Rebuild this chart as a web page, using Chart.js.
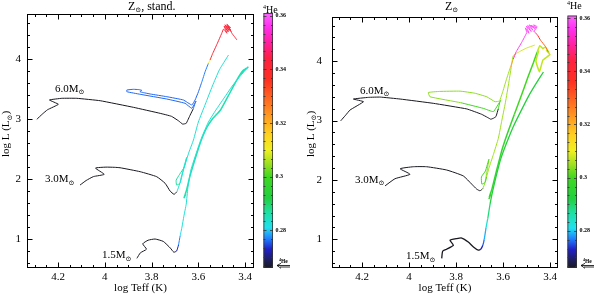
<!DOCTYPE html>
<html><head><meta charset="utf-8">
<script src="https://cdn.jsdelivr.net/npm/chart.js@4.4.1/dist/chart.umd.min.js"></script>
<style>
html,body{margin:0;padding:0;background:#fff;}
#wrap{position:relative;width:600px;height:295px;overflow:hidden;}
.pn{position:absolute;top:0;width:300px;height:295px;}
</style></head><body>
<div id="wrap">
<div class="pn" style="left:0"><canvas id="cL" width="300" height="295"></canvas></div>
<div class="pn" style="left:300px"><canvas id="cR" width="300" height="295"></canvas></div>
</div>
<script>
// ---------- axes / ticks ----------
const xMajorTicks = [4.2, 4.0, 3.8, 3.6, 3.4];
const xTickLabels = ['4.2', '4', '3.8', '3.6', '3.4'];
const yMajorTicks = [1, 2, 3, 4];
const yTickLabels = ['1', '2', '3', '4'];
const yMin = 0.517, yMax = 4.75;
const heMin = 0.266, heMax = 0.3606;
const heTickValues = [0.28, 0.30, 0.32, 0.34, 0.36];
const heTickLabels = ['0.28', '0.3', '0.32', '0.34', '0.36'];
const massLabels = ['6.0', '3.0', '1.5'];

// colour table of the 4He colour bar
const heStops = [0.266,0.269,0.273,0.277,0.281,0.287,0.292,0.300,0.305,0.310,0.316,0.322,0.328,0.336,0.344,0.350,0.356,0.361];
const heStopColors = ['#181820','#1e1e60','#2020c8','#2080ff','#20e0f0','#20e0a0','#20d040','#40d820','#a0e020','#f0f020','#ffd020','#ffa020','#ff7020','#ff3020','#ff2040','#ff20a0','#ff30f0','#ff60ff'];

// ---------- LEFT panel (Z_sun, stand.) ----------
const L6_x = [4.291,4.268,4.245,4.199,4.237,4.184,4.120,4.020,3.878,3.764,3.715,3.685,3.667,3.652,3.635,3.622,3.614,3.610,3.628,3.657,3.735,3.849,3.906,3.906,3.878,3.855,3.842,3.850,3.835,3.806,3.735,3.664,3.628,3.614,3.600,3.585,3.570,3.557,3.550,3.540,3.520,3.500,
  3.492,3.478,3.490,3.472,3.486,3.468,3.482,3.464,3.478,3.462,3.475,3.460,3.470,3.455,3.445,3.435];
const L6_y = [2.995,3.080,3.155,3.245,3.317,3.345,3.345,3.305,3.195,3.095,3.045,2.970,2.915,2.928,3.067,3.170,3.262,3.300,3.178,3.262,3.333,3.412,3.455,3.483,3.495,3.490,3.478,3.455,3.440,3.417,3.372,3.317,3.233,3.317,3.450,3.620,3.800,3.928,3.983,4.080,4.250,4.428,
  4.500,4.430,4.550,4.450,4.570,4.470,4.560,4.490,4.580,4.520,4.550,4.460,4.530,4.420,4.370,4.317];
const L6_he = [0.266,0.266,0.266,0.266,0.266,0.266,0.266,0.266,0.266,0.266,0.266,0.266,0.266,0.266,0.266,0.266,
  0.276,0.276,0.276,0.276,0.276,0.276,0.276,0.276,0.276,0.276,0.276,0.276,0.276,0.276,0.276,0.276,0.276,0.276,0.276,0.276,0.277,0.277,
  0.310,0.336,0.342,0.342,
  0.342,0.342,0.342,0.342,0.342,0.342,0.342,0.342,0.342,0.342,0.342,0.342,0.342,0.342,0.342,0.342];

const L3_x = [4.106,4.080,4.049,4.003,4.040,3.995,3.960,3.935,3.849,3.778,3.742,3.721,3.704,3.692,3.680,3.672,3.662,3.650,3.660,3.680,3.695,3.693,3.678,3.672,3.660,3.640,3.621,3.600,3.570,3.540,3.510,3.471];
const L3_y = [1.900,1.975,2.040,2.078,2.182,2.198,2.195,2.188,2.122,2.038,1.928,1.800,1.745,1.788,1.920,2.050,2.200,2.360,2.200,2.080,1.980,1.900,1.930,2.020,2.200,2.450,2.650,2.950,3.250,3.550,3.820,4.067];
const L3_he = [0.266,0.266,0.266,0.266,0.266,0.266,0.266,0.266,0.266,0.266,0.266,0.266,0.266,0.266,
  0.283,0.283,0.283,0.283,0.287,0.287,0.287,0.287,0.287,0.283,0.283,0.283,0.283,0.283,0.283,0.283,0.283,0.283];

const L15_x = [3.863,3.848,3.822,3.838,3.815,3.785,3.750,3.720,3.705,3.693,3.685,3.678,3.670,3.662,3.652,3.645,3.632,3.610,3.585,3.557,3.525,3.490,3.455,3.420,3.392];
const L15_y = [0.678,0.770,0.830,0.920,0.980,1.000,0.960,0.850,0.780,0.800,0.900,1.050,1.200,1.380,1.580,1.850,2.150,2.420,2.700,2.950,3.150,3.350,3.550,3.720,3.850];
const L15_he = [0.266,0.266,0.266,0.266,0.266,0.266,0.266,0.266,0.266,0.266,0.272,0.277,0.281,
  0.283,0.283,0.283,0.283,0.283,0.283,0.283,0.283,0.283,0.283,0.283,0.283];

const L15agb_x = [3.662,3.655,3.660,3.650,3.636,3.615,3.592,3.565,3.540,3.505,3.470,3.440,3.415,3.405,3.415,3.398,3.410,3.386];
const L15agb_y = [1.680,1.740,1.700,1.820,2.050,2.320,2.600,2.850,3.000,3.150,3.400,3.620,3.780,3.820,3.760,3.840,3.790,3.870];
const L15agb_he = [0.286,0.286,0.286,0.286,0.286,0.286,0.286,0.286,0.286,0.286,0.286,0.286,0.286,0.286,0.286,0.286,0.286,0.286];

// ---------- RIGHT panel (Z_sun) ----------
const R6_x = [4.291,4.270,4.251,4.194,4.237,4.173,4.123,4.038,3.897,3.754,3.691,3.665,3.652,3.640,3.630,3.620,3.613,3.610,3.641,3.684,3.780,3.911,3.918,3.870,3.783,3.720,3.669,3.634,3.615,3.600,3.585,3.570,3.556,3.545,3.520,3.499,
  3.505,3.490,3.500,3.480,3.495,3.472,3.488,3.465,3.480,3.458,3.470,3.455,3.468,3.455,3.440,3.420,3.407];
const R6_y = [2.995,3.090,3.178,3.317,3.362,3.390,3.395,3.362,3.290,3.195,3.105,3.050,3.022,3.040,3.067,3.200,3.317,3.340,3.150,3.205,3.300,3.400,3.472,3.490,3.495,3.460,3.400,3.317,3.330,3.500,3.700,3.880,4.038,4.150,4.320,4.483,
  4.560,4.470,4.590,4.500,4.600,4.520,4.610,4.550,4.600,4.560,4.610,4.580,4.500,4.450,4.350,4.250,4.150];
const R6_he = [0.266,0.266,0.266,0.266,0.266,0.266,0.266,0.266,0.266,0.266,0.266,0.266,0.266,0.266,0.266,0.266,
  0.300,0.300,0.300,0.300,0.300,0.304,0.304,0.304,0.304,0.304,0.304,0.304,0.305,0.305,0.305,0.305,
  0.322,0.352,0.358,0.358,
  0.358,0.358,0.358,0.358,0.358,0.358,0.358,0.358,0.358,0.358,0.358,0.358,0.358,0.350,0.338,0.330,0.328];

const R3_x = [4.102,4.060,3.996,4.038,3.982,3.925,3.840,3.769,3.733,3.712,3.698,3.686,3.677,3.668,3.660,3.675,3.692,3.690,3.676,3.670,3.660,3.641,3.620,3.606,3.590,3.575,3.563,3.556,3.530,3.500,3.465];
const R3_y = [1.900,2.020,2.095,2.188,2.222,2.222,2.167,2.067,1.928,1.845,1.817,1.855,1.955,2.150,2.350,2.150,2.050,1.930,1.960,2.050,2.200,2.428,2.700,2.983,3.300,3.650,3.950,4.095,4.160,4.220,4.270];
const R3_he = [0.266,0.266,0.266,0.266,0.266,0.266,0.266,0.266,0.266,0.266,0.266,0.266,
  0.304,0.304,0.304,0.300,0.300,0.300,0.300,0.300,0.305,0.305,0.305,0.305,0.305,0.305,0.305,0.305,0.308,0.308,0.308];

const R15_x = [3.861,3.857,3.840,3.811,3.826,3.797,3.776,3.748,3.726,3.705,3.695,3.686,3.680,3.672,3.665,3.655,3.645,3.630,3.610,3.585,3.556,3.525,3.490,3.455,3.428];
const R15_y = [0.680,0.800,0.833,0.900,0.983,1.012,1.022,0.955,0.872,0.817,0.833,0.900,1.000,1.200,1.350,1.595,1.800,2.050,2.350,2.620,2.900,3.150,3.420,3.650,3.817];
const R15_he = [0.266,0.266,0.266,0.266,0.266,0.266,0.266,0.266,0.266,0.266,0.266,
  0.272,0.276,0.279,0.283,0.289,0.293,0.293,0.293,0.293,0.293,0.293,0.293,0.293,0.293];

const R15agb_x = [3.660,3.652,3.658,3.647,3.628,3.605,3.580,3.552,3.522,3.495,3.470,3.455,3.443,3.430,3.420,3.405,3.415,3.400,3.430,3.445,3.460,3.448];
const R15agb_y = [1.680,1.760,1.720,1.850,2.150,2.500,2.800,3.100,3.420,3.720,3.980,4.150,4.260,4.210,4.240,4.150,4.180,4.110,4.020,3.820,4.000,4.180];
const R15agb_he = [0.297,0.297,0.297,0.297,0.297,0.297,0.297,0.297,0.300,0.300,0.300,0.300,0.307,0.307,0.307,0.307,0.307,0.307,0.307,0.307,0.307,0.307];

// ---------- helpers ----------
const FONT = "'Liberation Serif','DejaVu Serif',serif";
function hexRgb(h){ return [parseInt(h.slice(1,3),16),parseInt(h.slice(3,5),16),parseInt(h.slice(5,7),16)]; }
function heColor(v){
  if (v <= heStops[0]) return heStopColors[0];
  for (let i = 1; i < heStops.length; i++) {
    if (v <= heStops[i]) {
      const t = (v - heStops[i-1]) / (heStops[i] - heStops[i-1]);
      const a = hexRgb(heStopColors[i-1]), b = hexRgb(heStopColors[i]);
      return 'rgb(' + [0,1,2].map(k => Math.round(a[k] + (b[k]-a[k])*t)).join(',') + ')';
    }
  }
  return heStopColors[heStopColors.length-1];
}
function track(xs, ys, hes, width, tension){
  return {
    data: xs.map((x, i) => ({x: x, y: ys[i]})),
    showLine: true, pointRadius: 0, pointHoverRadius: 0, borderWidth: width, tension: tension, fill: false,
    borderColor: heColor(hes[0]),
    segment: { borderColor: c => heColor(hes[c.p1DataIndex]) },
    xAxisID: 'x', yAxisID: 'y'
  };
}
function drawParts(ctx, parts, x, y, align){
  let total = 0;
  parts.forEach(p => { ctx.font = (p.w || '') + ' ' + p.s + 'px ' + FONT; p.m = ctx.measureText(p.t).width; total += p.m; });
  let cx = align === 'center' ? x - total/2 : x;
  ctx.textAlign = 'left'; ctx.textBaseline = 'alphabetic';
  parts.forEach(p => { ctx.font = (p.w || '') + ' ' + p.s + 'px ' + FONT; ctx.fillText(p.t, cx, y + (p.dy || 0)); cx += p.m; });
}
function line(ctx, x1, y1, x2, y2){ ctx.beginPath(); ctx.moveTo(x1, y1); ctx.lineTo(x2, y2); ctx.stroke(); }

function decor(p){
  return {
    id: 'decor' + p.id,
    afterDraw(chart){
      const ctx = chart.ctx, a = chart.chartArea, sx = chart.scales.x, sy = chart.scales.y, she = chart.scales.he;
      ctx.save();
      ctx.fillStyle = '#000'; ctx.strokeStyle = '#000'; ctx.lineWidth = 1;
      const L = Math.round(a.left) + 0.5, R = Math.round(a.right) - 0.5, T = Math.round(a.top) + 0.5, B = Math.round(a.bottom) - 0.5;
      ctx.strokeRect(L, T, R - L, B - T);
      for (let k = 0; k <= 18; k++) {
        const v = 3.40 + k * 0.05;
        const px = Math.round(sx.getPixelForValue(v)) + 0.5;
        const major = xMajorTicks.some(m => Math.abs(m - v) < 1e-6);
        const len = major ? 5 : 2.5;
        line(ctx, px, B, px, B - len); line(ctx, px, T, px, T + len);
      }
      for (let k = 0; k <= 20; k++) {
        const v = 0.6 + k * 0.2;
        const py = Math.round(sy.getPixelForValue(v)) + 0.5;
        const major = yMajorTicks.some(m => Math.abs(m - v) < 1e-6);
        const len = major ? 5 : 2.5;
        line(ctx, L, py, L + len, py); line(ctx, R, py, R - len, py);
      }
      ctx.save();
      ctx.translate(p.yTitleX, p.yTitleY); ctx.rotate(-Math.PI/2);
      drawParts(ctx, [{t:'log L (L', s:11}, {t:'\u2299', s:7, dy:2.5}, {t:')', s:11}], 0, 3.8, 'center');
      ctx.restore();
      drawParts(ctx, p.titleParts, p.titleX, 9.5, 'left');
      massLabels.forEach((m, i) => {
        drawParts(ctx, [{t: m + 'M', s:11}, {t:'\u2299', s:7, dy:2.5}], sx.getPixelForValue(p.massX[i]), sy.getPixelForValue(p.massY[i]), 'left');
      });
      const yTop = she.getPixelForValue(heMax), yBot = she.getPixelForValue(heMin);
      const bx = a.right + p.cbGap, bw = p.cbW;
      const g = ctx.createLinearGradient(0, yBot, 0, yTop);
      heStops.forEach((s, i) => { const f = Math.min(1, Math.max(0, (s - heMin) / (heMax - heMin))); g.addColorStop(f, heStopColors[i]); });
      ctx.fillStyle = g; ctx.fillRect(bx, yTop - 1, bw, yBot - yTop + 1);
      ctx.strokeStyle = '#333'; ctx.lineWidth = 0.8;
      ctx.strokeRect(bx + 0.4, yTop - 0.6, bw - 0.8, yBot - yTop + 0.2);
      for (let k = -4; k <= 24; k++) {
        const v = 0.28 + k * 0.02 / 6;
        if (v < heMin || v > heMax) continue;
        const py = Math.round(she.getPixelForValue(v)) + 0.5;
        const len = (k % 6 === 0) ? 3 : 2;
        line(ctx, bx, py, bx + len, py); line(ctx, bx + bw, py, bx + bw - len, py);
      }
      ctx.fillStyle = '#000';
      ctx.font = 'bold 6px ' + FONT; ctx.textAlign = 'left'; ctx.textBaseline = 'middle';
      heTickValues.forEach((v, i) => ctx.fillText(heTickLabels[i], bx + bw + 2.5, she.getPixelForValue(v)));
      drawParts(ctx, [{t:'4', s:6, dy:-4}, {t:'He', s:10}], bx - 0.5, p.cbTitleY, 'left');
      drawParts(ctx, [{t:'4', s:4, dy:-2, w:'bold'}, {t:'He', s:5.5, w:'bold'}], bx + bw + 6, yBot - 5.5, 'left');
      ctx.strokeStyle = '#000'; ctx.lineWidth = 0.8;
      const ay = yBot - 2.5, ax0 = bx + bw + 4, ax1 = bx + bw + 17;
      line(ctx, ax0, ay, ax1, ay); line(ctx, ax0 + 3, ay + 1.5, ax1, ay + 1.5);
      line(ctx, ax0, ay, ax0 + 4, ay - 2.2); line(ctx, ax0, ay, ax0 + 4, ay + 2.8);
      ctx.restore();
    }
  };
}

function panelConfig(p){
  return {
    type: 'scatter',
    data: { datasets: p.tracks },
    options: {
      responsive: false, animation: false, devicePixelRatio: 1,
      layout: { padding: { left: 0, top: 14, right: p.padRight, bottom: 0 } },
      plugins: { legend: { display: false }, tooltip: { enabled: false }, title: { display: false } },
      scales: {
        x: {
          type: 'linear', reverse: true, min: p.xMin, max: p.xMax,
          afterFit: s => { s.height = 27; },
          afterBuildTicks: s => { s.ticks = xMajorTicks.map(v => ({ value: v })); },
          ticks: { autoSkip: false, maxRotation: 0, minRotation: 0, padding: 3, color: '#000', font: { family: FONT, size: 11 }, callback: (v, i) => xTickLabels[i] },
          grid: { display: false, drawTicks: false }, border: { display: false },
          title: { display: true, text: 'log Teff (K)', color: '#000', font: { family: FONT, size: 11 }, padding: { top: 0, bottom: 0 } }
        },
        y: {
          type: 'linear', position: 'left', min: yMin, max: yMax,
          afterFit: s => { s.width = p.yWidth; },
          afterBuildTicks: s => { s.ticks = yMajorTicks.map(v => ({ value: v })); },
          ticks: { autoSkip: false, padding: p.yPad, color: '#000', font: { family: FONT, size: 11 }, callback: (v, i) => yTickLabels[i] },
          grid: { display: false, drawTicks: false }, border: { display: false }
        },
        he: { type: 'linear', display: false, position: 'right', min: heMin, max: heMax }
      }
    },
    plugins: [decor(p)]
  };
}

new Chart(document.getElementById('cL'), panelConfig({
  id: 'L', xMin: 3.362, xMax: 4.333, padRight: 46, yWidth: 27, yPad: 6,
  yTitleX: 5.5, yTitleY: 134, titleX: 128,
  titleParts: [{t:'Z', s:12}, {t:'\u2299', s:7, dy:2.5}, {t:', stand.', s:12}],
  massX: [4.213, 4.256, 4.012], massY: [3.458, 1.950, 0.683],
  cbGap: 9.5, cbW: 9.5, cbTitleY: 12.5,
  tracks: [
    track(L6_x, L6_y, L6_he, 1, 0.1),
    track(L3_x, L3_y, L3_he, 1, 0.15),
    track(L15_x, L15_y, L15_he, 1, 0.15),
    track(L15agb_x, L15agb_y, L15agb_he, 1.5, 0.1)
  ]
}));

new Chart(document.getElementById('cR'), panelConfig({
  id: 'R', xMin: 3.366, xMax: 4.328, padRight: 42, yWidth: 32, yPad: 10,
  yTitleX: 10, yTitleY: 134, titleX: 145,
  titleParts: [{t:'Z', s:12}, {t:'\u2299', s:7, dy:2.5}],
  massX: [4.209, 4.230, 4.013], massY: [3.450, 1.950, 0.667],
  cbGap: 9.5, cbW: 9.5, cbTitleY: 8.5,
  tracks: [
    track(R6_x, R6_y, R6_he, 1, 0.1),
    track(R3_x, R3_y, R3_he, 1, 0.15),
    track(R15_x, R15_y, R15_he, 1.3, 0.15),
    track(R15agb_x, R15agb_y, R15agb_he, 1.5, 0.1)
  ]
}));
</script>
</body></html>
